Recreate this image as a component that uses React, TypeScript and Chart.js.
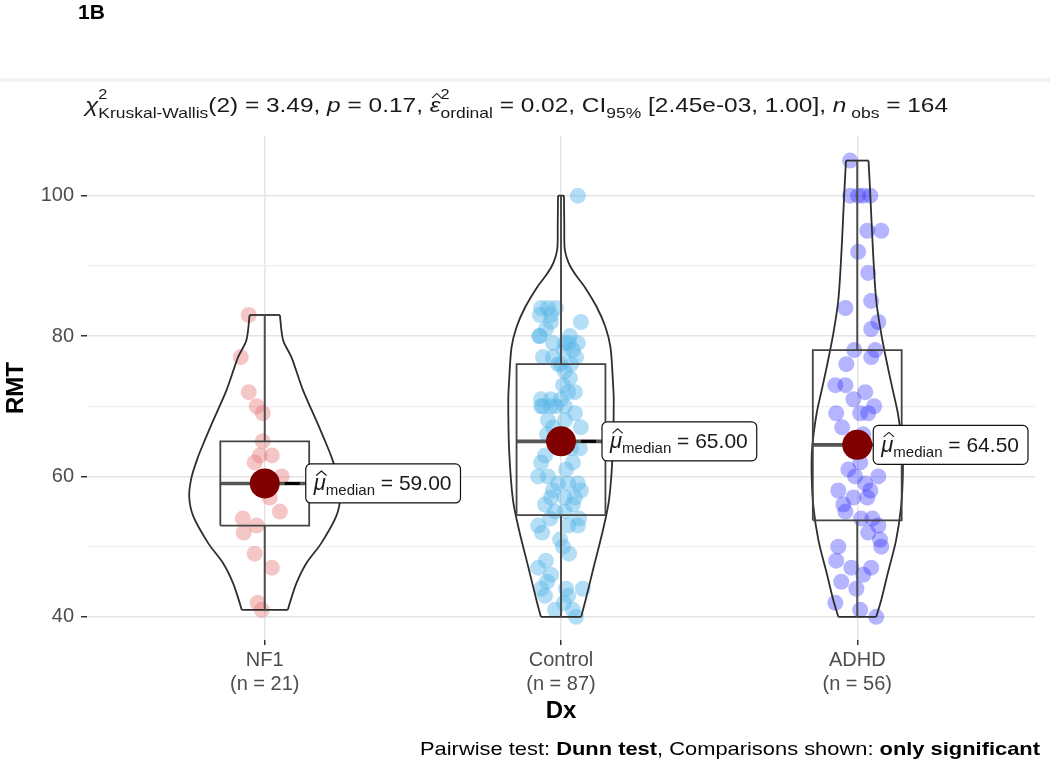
import React, { useEffect, useRef } from "react";
import { Chart, registerables } from "chart.js";

Chart.register(...registerables);

// ---------- data ----------
const categories = ["NF1", "Control", "ADHD"];

const nf1Rmt = [83, 77, 72, 70, 69, 65, 63, 63, 62, 60, 59, 58, 57, 55, 54, 52, 53, 49, 47, 42, 41];
const nf1Jitter = [-0.054, -0.081, -0.054, -0.027, -0.007, -0.007, -0.017, 0.024, -0.034, 0.057, 0.0, 0.01, 0.017, 0.051, -0.074, -0.071, -0.027, -0.034, 0.024, -0.024, -0.01];

const controlRmt = [100, 84, 84, 83, 83, 82, 82, 80, 79, 79, 80, 79, 77, 77, 77, 76, 75, 74, 72, 73, 71, 71, 71, 72, 70, 70, 70, 70, 70, 69, 68, 68, 67, 64, 62, 63, 60, 60, 59, 59, 59, 58, 57, 57, 56, 55, 55, 56, 53, 54, 53, 53, 51, 50, 47, 46, 48, 44, 43, 44, 44, 43, 41, 41, 40, 84, 81, 78, 76, 78, 79, 80, 76, 67, 66, 65, 65, 64, 62, 61, 58, 57, 54, 52, 49, 45, 42];
const controlJitter = [0.057, -0.067, -0.044, -0.034, -0.071, -0.034, 0.067, -0.071, -0.027, 0.013, 0.03, 0.057, -0.061, -0.027, 0.051, 0.0, 0.013, 0.03, 0.047, 0.007, -0.067, -0.034, 0.0, 0.024, -0.061, -0.017, -0.067, -0.034, 0.013, 0.047, -0.044, 0.013, 0.067, 0.064, 0.04, -0.054, -0.077, -0.044, -0.01, 0.024, 0.057, 0.067, 0.013, -0.034, -0.054, -0.02, 0.013, 0.04, -0.077, -0.037, 0.057, 0.024, -0.003, 0.007, -0.077, -0.034, -0.051, -0.067, -0.054, 0.017, 0.074, 0.024, -0.02, 0.04, 0.051, -0.017, -0.051, 0.04, -0.01, 0.01, 0.027, -0.074, 0.034, -0.027, -0.047, 0.01, -0.02, 0.034, -0.067, 0.017, -0.027, 0.047, 0.061, -0.064, 0.027, -0.047, 0.01];

const adhdRmt = [105, 100, 100, 100, 100, 95, 95, 92, 89, 84, 85, 82, 81, 77, 76, 73, 73, 72, 71, 69, 69, 69, 66, 62, 60, 59, 58, 58, 57, 56, 54, 53, 52, 51, 50, 50, 48, 47, 47, 45, 44, 42, 41, 40, 78, 78, 65, 67, 70, 64, 61, 60, 57, 55, 54, 46];
const adhdJitter = [-0.024, -0.024, 0.003, 0.02, 0.044, 0.034, 0.081, 0.003, 0.037, -0.04, 0.047, 0.071, 0.047, 0.047, -0.037, -0.074, -0.04, 0.027, -0.013, -0.071, 0.01, 0.037, 0.02, 0.01, 0.071, 0.027, 0.044, -0.064, -0.013, -0.047, 0.013, 0.071, 0.037, 0.077, 0.081, -0.064, -0.071, -0.02, 0.047, -0.054, -0.003, -0.074, 0.01, 0.064, -0.01, 0.061, -0.007, -0.051, 0.057, 0.017, -0.03, -0.007, 0.034, -0.04, 0.051, 0.02];

// violin outlines: RMT level and half-width (in category units), bottom to top
const nf1ViolinY = [41.0, 41.9, 44.8, 47.6, 50.5, 54.3, 57.1, 59.9, 62.8, 65.2, 67.5, 72.3, 77.0, 79.4, 83.0];
const nf1ViolinHalfWidth = [0.078, 0.084, 0.107, 0.14, 0.191, 0.241, 0.255, 0.247, 0.225, 0.202, 0.179, 0.129, 0.09, 0.062, 0.051];
const controlViolinY = [40.0, 42.4, 47.2, 51.9, 56.6, 63.7, 70.9, 73.7, 78.4, 81.3, 84.1, 87.0, 88.4, 89.8, 91.2, 92.65, 96.0, 100.0];
const controlViolinHalfWidth = [0.068, 0.083, 0.111, 0.139, 0.162, 0.175, 0.178, 0.175, 0.167, 0.15, 0.121, 0.08, 0.055, 0.033, 0.019, 0.012, 0.011, 0.01];
const adhdViolinY = [40.0, 42.4, 46.2, 50.9, 55.7, 60.4, 64.2, 69.0, 72.3, 75.6, 80.3, 85.1, 92.2, 100.2, 105.0];
const adhdViolinHalfWidth = [0.064, 0.081, 0.103, 0.131, 0.148, 0.154, 0.152, 0.137, 0.12, 0.103, 0.081, 0.064, 0.053, 0.044, 0.038];

const yTicks = [40, 50, 60, 70, 80, 90, 100];
const yLabelledTicks = [40, 60, 80, 100];

const pointColors = ["rgba(232,118,118,0.42)", "rgba(86,182,233,0.45)", "rgba(40,40,255,0.35)"];

// ---------- helpers ----------
const FONT = '"Liberation Sans", Arial, Helvetica, sans-serif';

function quantile(sorted: number[], p: number) {
  const h = (sorted.length - 1) * p;
  const lo = Math.floor(h);
  const hi = Math.min(lo + 1, sorted.length - 1);
  return sorted[lo] + (h - lo) * (sorted[hi] - sorted[lo]);
}
function boxStats(values: number[]) {
  const s = [...values].sort((a, b) => a - b);
  const q1 = quantile(s, 0.25);
  const median = quantile(s, 0.5);
  const q3 = quantile(s, 0.75);
  const iqr = q3 - q1;
  const lo = s.find((v) => v >= q1 - 1.5 * iqr) as number;
  const hi = [...s].reverse().find((v) => v <= q3 + 1.5 * iqr) as number;
  return { q1, median, q3, lo, hi };
}

const groups = [
  { values: nf1Rmt, jitter: nf1Jitter, vy: nf1ViolinY, vw: nf1ViolinHalfWidth },
  { values: controlRmt, jitter: controlJitter, vy: controlViolinY, vw: controlViolinHalfWidth },
  { values: adhdRmt, jitter: adhdJitter, vy: adhdViolinY, vw: adhdViolinHalfWidth },
].map((g) => ({ ...g, stats: boxStats(g.values) }));

type Part = { t: string; font: string; dy?: number; adv?: boolean; hat?: boolean; hatY?: number };

function partsWidth(ctx: CanvasRenderingContext2D, parts: Part[]) {
  let w = 0;
  for (const p of parts) {
    ctx.font = p.font;
    if (p.adv !== false) w += ctx.measureText(p.t).width;
  }
  return w;
}
function drawParts(ctx: CanvasRenderingContext2D, x: number, y: number, parts: Part[], target?: number) {
  const natural = partsWidth(ctx, parts);
  const sx = target ? target / natural : 1;
  ctx.save();
  ctx.translate(x, y);
  ctx.scale(sx, 1);
  ctx.textBaseline = "alphabetic";
  ctx.textAlign = "left";
  let cx = 0;
  for (const p of parts) {
    ctx.font = p.font;
    const w = ctx.measureText(p.t).width;
    ctx.fillText(p.t, cx, p.dy || 0);
    if (p.hat) {
      const hy = p.hatY ?? -14;
      ctx.save();
      ctx.beginPath();
      ctx.lineWidth = 1.1;
      ctx.strokeStyle = ctx.fillStyle as string;
      ctx.moveTo(cx + w * 0.12 + 1, hy);
      ctx.lineTo(cx + w * 0.55 + 1, hy - 4.5);
      ctx.lineTo(cx + w * 0.98 + 1, hy);
      ctx.stroke();
      ctx.restore();
    }
    if (p.adv !== false) cx += w;
  }
  ctx.restore();
  return natural * sx;
}

const f = (size: number, style = "") => `${style} ${size}px ${FONT}`.trim();

const titleParts: Part[] = [
  { t: "χ", font: f(21, "italic") },
  { t: "2", font: f(14), dy: -13, adv: false },
  { t: "Kruskal-Wallis", font: f(15), dy: 6 },
  { t: "(2) = 3.49, ", font: f(21) },
  { t: "p", font: f(21, "italic") },
  { t: " = 0.17, ", font: f(21) },
  { t: "ε", font: f(21, "italic"), hat: true, hatY: -14 },
  { t: "2", font: f(14), dy: -13, adv: false },
  { t: "ordinal", font: f(15), dy: 6 },
  { t: " = 0.02, CI", font: f(21) },
  { t: "95%", font: f(15), dy: 6 },
  { t: " [2.45e-03, 1.00], ", font: f(21) },
  { t: "n", font: f(21, "italic") },
  { t: " obs", font: f(15), dy: 6 },
  { t: " = 164", font: f(21) },
];

const captionParts: Part[] = [
  { t: "Pairwise test: ", font: f(19) },
  { t: "Dunn test", font: f(19, "bold") },
  { t: ", Comparisons shown: ", font: f(19) },
  { t: "only significant", font: f(19, "bold") },
];

const labelNudge = [41, 41, 16];

const annotationPlugin = {
  id: "statsAnnotations",
  beforeDraw(chart: any) {
    const ctx = chart.ctx as CanvasRenderingContext2D;
    ctx.save();
    ctx.fillStyle = "#ffffff";
    ctx.fillRect(0, 0, chart.width, chart.height);
    ctx.restore();
  },
  afterDatasetsDraw(chart: any) {
    const ctx = chart.ctx as CanvasRenderingContext2D;
    const xs = chart.scales.x;
    const ys = chart.scales.y;
    groups.forEach((g, i) => {
      const px = xs.getPixelForValue(i + 1);
      const py = ys.getPixelForValue(g.stats.median);
      const parts: Part[] = [
        { t: "μ", font: f(22, "italic"), hat: true, hatY: -15 },
        { t: "median", font: f(15), dy: 5 },
        { t: " = " + g.stats.median.toFixed(2), font: f(21) },
      ];
      ctx.save();
      const tw = partsWidth(ctx, parts);
      const left = px + labelNudge[i];
      const w = tw + 17;
      const h = 39;
      const top = py - h / 2;
      // connector
      if (left - 8 > px + 16) {
        ctx.beginPath();
        ctx.strokeStyle = "#000";
        ctx.lineWidth = 3;
        ctx.moveTo(px + 20, py);
        ctx.lineTo(left - 6, py);
        ctx.stroke();
      }
      ctx.beginPath();
      (ctx as any).roundRect(left, top, w, h, 5);
      ctx.fillStyle = "#ffffff";
      ctx.fill();
      ctx.lineWidth = 1.2;
      ctx.strokeStyle = "#111";
      ctx.stroke();
      ctx.fillStyle = "#1a1a1a";
      drawParts(ctx, left + 8, py + 7, parts);
      ctx.restore();
    });
  },
  afterDraw(chart: any) {
    const ctx = chart.ctx as CanvasRenderingContext2D;
    ctx.save();
    // panel tag and separator
    ctx.fillStyle = "#000";
    ctx.font = f(21, "bold");
    ctx.textBaseline = "alphabetic";
    ctx.fillText("1B", 78, 19);
    ctx.fillStyle = "rgba(0,0,0,0.045)";
    ctx.fillRect(0, 78, chart.width, 4);
    // subtitle
    ctx.fillStyle = "#1a1a1a";
    drawParts(ctx, 85, 112, titleParts, 863);
    // caption
    ctx.fillStyle = "#000";
    drawParts(ctx, 420, 755, captionParts, 620);
    ctx.restore();
  },
};

// ---------- datasets ----------
const BOX = 0.15;
function line(data: { x: number; y: number }[], color: string, width: number, tension = 0) {
  return {
    type: "scatter" as const,
    data,
    showLine: true,
    borderColor: color,
    borderWidth: width,
    pointRadius: 0,
    pointHoverRadius: 0,
    tension,
    fill: false,
    order: 1,
  };
}

function buildDatasets() {
  const ds: any[] = [];
  ds.push({
    type: "scatter",
    data: groups.map((g, i) => ({ x: i + 1, y: g.stats.median })),
    pointRadius: 15,
    pointBackgroundColor: "#800000",
    pointBorderWidth: 0,
    order: 0,
  });
  groups.forEach((g, i) => {
    const c = i + 1;
    const s = g.stats;
    ds.push(line([
      { x: c - BOX, y: s.q1 }, { x: c + BOX, y: s.q1 }, { x: c + BOX, y: s.q3 },
      { x: c - BOX, y: s.q3 }, { x: c - BOX, y: s.q1 },
    ], "#444444", 1.8));
    ds.push(line([{ x: c - BOX, y: s.median }, { x: c + BOX, y: s.median }], "#555555", 3.6));
    ds.push(line([{ x: c, y: s.q3 }, { x: c, y: s.hi }], "#4d4d4d", 2));
    ds.push(line([{ x: c, y: s.q1 }, { x: c, y: s.lo }], "#4d4d4d", 2));
    ds.push(line(g.vy.map((y, k) => ({ x: c - g.vw[k], y })), "#2e2e2e", 1.8, 0.3));
    ds.push(line(g.vy.map((y, k) => ({ x: c + g.vw[k], y })), "#2e2e2e", 1.8, 0.3));
    const n = g.vy.length - 1;
    ds.push(line([{ x: c - g.vw[n], y: g.vy[n] }, { x: c + g.vw[n], y: g.vy[n] }], "#2e2e2e", 1.8));
    ds.push(line([{ x: c - g.vw[0], y: g.vy[0] }, { x: c + g.vw[0], y: g.vy[0] }], "#2e2e2e", 1.8));
  });
  groups.forEach((g, i) => {
    ds.push({
      type: "scatter",
      data: g.values.map((v, k) => ({ x: i + 1 + g.jitter[k], y: v })),
      pointRadius: 8,
      pointBackgroundColor: pointColors[i],
      pointBorderWidth: 0,
      order: 2,
    });
  });
  return ds;
}

export default function App() {
  const ref = useRef<HTMLCanvasElement>(null);
  useEffect(() => {
    if (!ref.current) return;
    const chart = new Chart(ref.current, {
      type: "scatter",
      data: { datasets: buildDatasets() },
      options: {
        responsive: false,
        animation: false,
        devicePixelRatio: 1,
        events: [],
        layout: { padding: { top: 136, bottom: 32, left: 0, right: 10 } },
        plugins: { legend: { display: false }, tooltip: { enabled: false } },
        scales: {
          x: {
            type: "linear",
            min: 0.4,
            max: 3.6,
            afterBuildTicks: (s: any) => {
              s.ticks = categories.map((_, i) => ({ value: i + 1 }));
            },
            afterFit: (s: any) => {
              s.height = 90;
            },
            ticks: {
              autoSkip: false,
              maxRotation: 0,
              padding: 3,
              color: "#4d4d4d",
              font: { family: FONT, size: 20, lineHeight: 1.2 },
              callback: (v: any) => {
                const i = Math.round(Number(v)) - 1;
                return [categories[i], `(n = ${groups[i].values.length})`];
              },
            },
            grid: { color: "#e6e6e6", lineWidth: 1.5, tickLength: 5, tickColor: "#333333" },
            border: { display: false },
            title: {
              display: true,
              text: "Dx",
              color: "#000",
              font: { family: FONT, size: 24, weight: "bold" },
              padding: { top: 0, bottom: 4 },
            },
          },
          y: {
            type: "linear",
            min: 36.7,
            max: 108.5,
            afterBuildTicks: (s: any) => {
              s.ticks = yTicks.map((v) => ({ value: v }));
            },
            afterFit: (s: any) => {
              s.width = 87;
            },
            ticks: {
              padding: 7,
              color: "#4d4d4d",
              font: { family: FONT, size: 20 },
              callback: (v: any) => (yLabelledTicks.includes(Number(v)) ? String(v) : ""),
            },
            grid: {
              color: (c: any) => (c.tick && yLabelledTicks.includes(c.tick.value) ? "#e4e4e4" : "#efefef"),
              lineWidth: (c: any) => (c.tick && yLabelledTicks.includes(c.tick.value) ? 1.5 : 1.2),
              tickLength: 6,
              tickColor: (c: any) => (c.tick && yLabelledTicks.includes(c.tick.value) ? "#333333" : "rgba(0,0,0,0)"),
            },
            border: { display: false },
            title: {
              display: true,
              text: "RMT",
              color: "#000",
              font: { family: FONT, size: 24, weight: "bold" },
              padding: { top: 2, bottom: 0 },
            },
          },
        },
      } as any,
      plugins: [annotationPlugin],
    });
    return () => chart.destroy();
  }, []);
  return (
    <div style={{ position: "absolute", left: 0, top: 0, width: 1050, height: 762, background: "#fff" }}>
      <canvas ref={ref} width={1050} height={762} style={{ display: "block", width: 1050, height: 762 }} />
    </div>
  );
}
